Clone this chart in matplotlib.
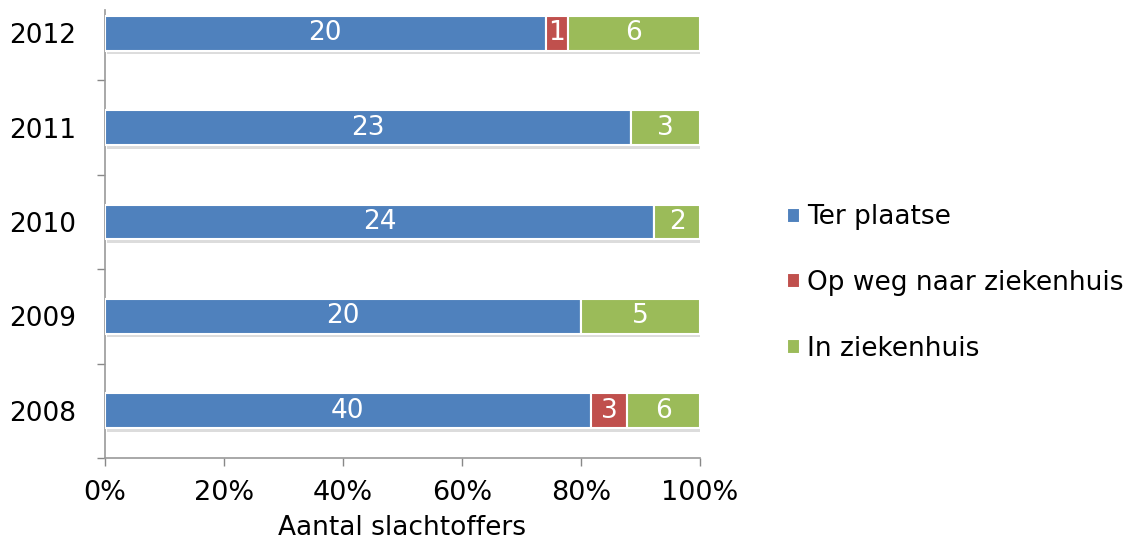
import matplotlib
matplotlib.use("Agg")
from matplotlib import pyplot as plt
from matplotlib import patheffects, ticker
import numpy as np

# Data
years = ["2008", "2009", "2010", "2011", "2012"]
series_names = ["Ter plaatse", "Op weg naar ziekenhuis", "In ziekenhuis"]
ter_plaatse = [40, 20, 24, 23, 20]
op_weg = [3, 0, 0, 0, 1]
in_ziekenhuis = [6, 5, 2, 3, 6]
colors = ["#4F81BD", "#C0504D", "#9BBB59"]

plt.rcParams["font.family"] = ["DejaVu Sans"]

counts = np.array([ter_plaatse, op_weg, in_ziekenhuis], dtype=float)
totals = counts.sum(axis=0)
shares = counts / totals * 100

fig = plt.figure(figsize=(11.3, 5.44), dpi=100)
axis = fig.add_axes([105 / 1130, 1 - 458 / 544, 595 / 1130, 448 / 544])

pos = np.arange(len(years))
shadow = [patheffects.withSimplePatchShadow(offset=(1.5, -2.5), shadow_rgbFace="0.55", alpha=0.3)]
left = np.zeros(len(years))
handles = []
for i, name in enumerate(series_names):
    bars = axis.barh(pos, shares[i], left=left, height=0.37, color=colors[i],
                     edgecolor="white", linewidth=1.5, label=name, zorder=3)
    for bar in bars:
        bar.set_path_effects(shadow)
    for j in range(len(years)):
        if counts[i, j] > 0:
            axis.text(left[j] + shares[i, j] / 2, pos[j], "%d" % counts[i, j],
                      ha="center", va="center", color="white", fontsize=19, zorder=4)
    left += shares[i]
    handles.append(bars)

axis.set_xlim(0, 100)
axis.set_ylim(-0.5, 4.5 - 24 / 94.4)
axis.xaxis.set_major_locator(ticker.MultipleLocator(20))
axis.xaxis.set_major_formatter(ticker.FuncFormatter(lambda v, p: "%d%%" % v))
axis.set_yticks(pos)
axis.set_yticklabels(years)
axis.set_yticks(np.arange(-0.5, 4.0, 1.0), minor=True)
axis.tick_params(axis="y", which="major", length=0, pad=21, labelsize=19)
axis.tick_params(axis="y", which="minor", length=6, color="#888888", width=1)
axis.tick_params(axis="x", length=6, color="#888888", width=1, labelsize=19.5, pad=10)
for side in ("top", "right"):
    axis.spines[side].set_visible(False)
for side in ("left", "bottom"):
    axis.spines[side].set_color("#999999")
    axis.spines[side].set_linewidth(1.2)

fig.text(402 / 1130, 1 - 528 / 544, "Aantal slachtoffers", ha="center", va="center", fontsize=19)

leg = fig.legend(handles=handles, labels=series_names, loc="center left",
                 bbox_to_anchor=(787 / 1130, 1 - 283 / 544), frameon=False, fontsize=19,
                 handlelength=0.5, handleheight=0.5, handletextpad=0.25,
                 labelspacing=1.5, borderpad=0, borderaxespad=0)
for h in leg.legend_handles:
    h.set_path_effects([])

fig.savefig("out.png", dpi=100)
